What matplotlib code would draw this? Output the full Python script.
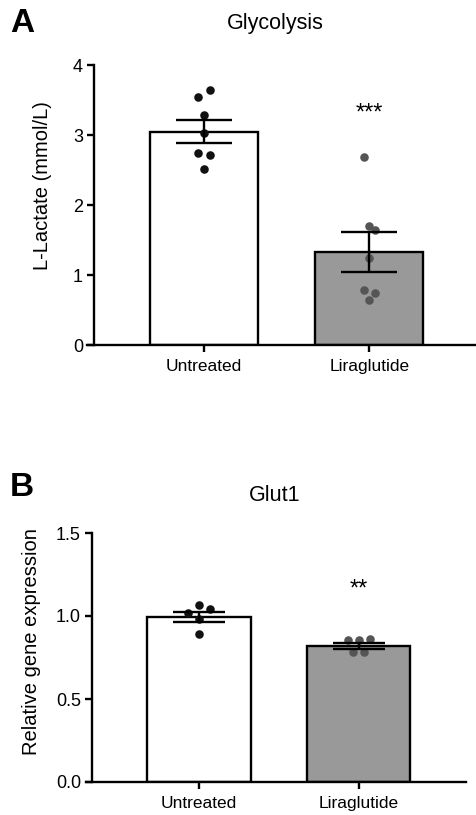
import numpy as np
import matplotlib
matplotlib.use("Agg")
import matplotlib.pyplot as plt

plt.rcParams['font.family'] = ['Liberation Sans', 'DejaVu Sans']

groups = ["Untreated", "Liraglutide"]

# Panel A - Glycolysis (L-Lactate, mmol/L)
lactate_means = [3.05, 1.33]
lactate_sem = [0.17, 0.28]
lactate_untreated = [3.55, 3.64, 3.28, 3.03, 2.74, 2.72, 2.52]
lactate_lira = [2.68, 1.64, 1.70, 1.25, 0.78, 0.74, 0.64]
lactate_offsets = [-0.035, 0.035, 0.0, 0.0, -0.035, 0.035, 0.0]

# Panel B - Glut1 relative gene expression
glut_means = [0.995, 0.82]
glut_sem = [0.032, 0.02]
glut_untreated = [1.068, 1.018, 1.042, 0.982, 0.893]
glut_lira = [0.855, 0.855, 0.863, 0.781, 0.781]
glut_off_untr = [0.0, -0.07, 0.07, 0.0, 0.0]
glut_off_lira = [-0.07, 0.0, 0.07, -0.035, 0.035]

W, H = 477, 815
fig = plt.figure(figsize=(W / 100, H / 100), dpi=100)


def px_axes(left, right, top, bottom):
    return fig.add_axes([left / W, 1 - bottom / H, (right - left) / W, (bottom - top) / H])


def draw_panel(ax, means, sems, pts, offs, ymax, yticks, yfmt, ylabel,
               stars, star_y, width, cap, yaxis_x, label_xy):
    x = np.arange(len(groups))
    ax.bar(x, means, width=width, color=["white", "#999999"], edgecolor="black",
           linewidth=1.7, zorder=2)
    colors = ["#111111", "#555555"]
    for i in range(len(groups)):
        ax.scatter(x[i] + np.array(offs[i]), pts[i], s=38, color=colors[i],
                   zorder=3, linewidths=0)
        ax.errorbar(x[i], means[i], yerr=sems[i], color="black", capsize=cap,
                    capthick=1.7, elinewidth=1.7, zorder=4)
    ax.text(x[1], star_y, stars, ha="center", va="center", fontsize=17)
    ax.set_ylim(0, ymax)
    ax.set_yticks(yticks)
    ax.set_yticklabels([yfmt.format(v) for v in yticks])
    ax.set_xticks(x)
    ax.set_xticklabels(groups)
    ax.spines[["top", "right"]].set_visible(False)
    ax.spines["left"].set_position(("data", yaxis_x))
    for s in ("left", "bottom"):
        ax.spines[s].set_linewidth(1.7)
    ax.tick_params(axis="y", length=5, width=1.7, labelsize=13, pad=3)
    ax.tick_params(axis="x", length=5, width=1.7, labelsize=12.5, pad=5)
    ax.set_ylabel(ylabel, fontsize=14.5)
    ax.yaxis.set_label_coords(*label_xy)


# Panel A: y-axis at px 94, bars at 204 / 369.5
axA = px_axes(87, 477, 65, 345)
sp = 165.5
draw_panel(axA, lactate_means, lactate_sem,
           [lactate_untreated, lactate_lira], [lactate_offsets, lactate_offsets],
           4, [0, 1, 2, 3, 4], "{:g}", "L-Lactate (mmol/L)",
           "***", 3.3, 108 / sp, 20, (94 - 204) / sp, (-0.09, 0.571))
axA.set_xlim((87 - 204) / sp, (477 - 204) / sp)

# Panel B: y-axis at px 92, bars at 199 / 358.7
axB = px_axes(86, 466, 533, 782)
sp = 159.7
draw_panel(axB, glut_means, glut_sem,
           [glut_untreated, glut_lira], [glut_off_untr, glut_off_lira],
           1.5, [0.0, 0.5, 1.0, 1.5], "{:.1f}", "Relative gene expression",
           "**", 1.16, 103.4 / sp, 19, (92 - 199) / sp, (-0.118, 0.562))
axB.set_xlim((86 - 199) / sp, (466 - 199) / sp)

fig.text(275 / W, 1 - 23 / H, "Glycolysis", fontsize=15.5, ha="center", va="center")
fig.text(275 / W, 1 - 495 / H, "Glut1", fontsize=15.5, ha="center", va="center")
fig.text(10 / W, 1 - 24 / H, "A", fontsize=24, fontweight="bold", va="center")
fig.text(10 / W, 1 - 487 / H, "B", fontsize=24, fontweight="bold", va="center")

fig.savefig("out.png", dpi=100)
